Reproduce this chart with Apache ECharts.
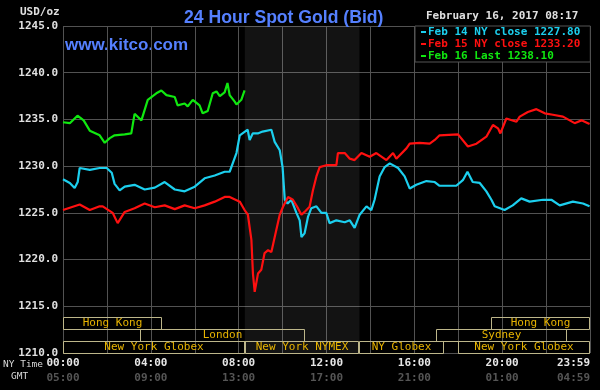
<!DOCTYPE html>
<html>
<head>
<meta charset="utf-8">
<script src="https://cdn.jsdelivr.net/npm/echarts@6/dist/echarts.min.js"></script>
<style>
html,body{margin:0;padding:0;background:#000;}
#chart{width:600px;height:390px;}
</style>
</head>
<body>
<div id="chart"></div>
<script>
// ---- data ----
const seriesNames = ['Feb 14 NY close 1227.80', 'Feb 15 NY close 1233.20', 'Feb 16 Last 1238.10'];

const feb14Hours = [0,0.31,0.53,0.67,0.76,1.22,1.67,1.99,2.22,2.35,2.58,2.81,3.26,3.72,4.18,4.63,5.09,5.54,6.00,6.45,6.91,7.36,7.59,7.90,8.05,8.41,8.50,8.64,8.87,9.09,9.49,9.64,9.87,10.00,10.10,10.23,10.40,10.63,10.78,10.86,11.00,11.16,11.31,11.54,11.77,11.99,12.14,12.45,12.83,13.06,13.28,13.51,13.82,14.04,14.19,14.42,14.65,14.88,15.26,15.56,15.79,16.09,16.55,16.93,17.15,17.91,18.21,18.42,18.66,18.98,19.28,19.51,19.66,20.11,20.48,20.87,21.25,21.86,22.24,22.62,23.22,23.68,23.98];
const feb14Values = [1228.6,1228.2,1227.65,1228.3,1229.8,1229.6,1229.8,1229.8,1229.3,1228.1,1227.4,1227.8,1228.0,1227.5,1227.7,1228.3,1227.5,1227.3,1227.8,1228.7,1229.0,1229.4,1229.4,1231.4,1233.3,1233.9,1232.8,1233.5,1233.5,1233.7,1233.9,1232.6,1231.7,1229.9,1226.4,1226.0,1226.4,1225.0,1224.2,1222.4,1222.8,1224.6,1225.5,1225.7,1225.0,1225.0,1223.9,1224.2,1224.0,1224.2,1223.4,1224.8,1225.7,1225.3,1226.4,1228.9,1229.9,1230.3,1229.8,1228.9,1227.6,1228.0,1228.4,1228.3,1227.9,1227.9,1228.5,1229.4,1228.3,1228.2,1227.3,1226.4,1225.7,1225.3,1225.8,1226.55,1226.2,1226.4,1226.4,1225.8,1226.2,1226.0,1225.7];

const feb15Hours = [0,0.76,1.22,1.67,1.81,2.26,2.49,2.81,3.26,3.72,4.18,4.63,5.09,5.54,6.00,6.45,6.91,7.36,7.59,8.05,8.27,8.42,8.58,8.65,8.73,8.88,9.03,9.18,9.34,9.49,9.64,9.87,10.02,10.25,10.47,10.70,10.86,11.00,11.23,11.38,11.54,11.69,11.99,12.45,12.52,12.83,13.06,13.28,13.59,13.97,14.27,14.73,15.03,15.18,15.64,15.79,16.24,16.70,16.93,17.15,17.99,18.44,18.83,19.28,19.58,19.81,19.92,20.19,20.65,20.80,21.17,21.56,21.94,22.31,22.77,23.30,23.61,23.98];
const feb15Values = [1225.3,1225.9,1225.3,1225.7,1225.7,1225.0,1223.9,1225.1,1225.5,1226.0,1225.6,1225.8,1225.4,1225.8,1225.5,1225.8,1226.2,1226.7,1226.7,1226.2,1225.3,1224.8,1222.1,1218.5,1216.55,1218.5,1218.9,1220.7,1221.0,1220.8,1222.4,1224.8,1225.65,1226.7,1226.4,1225.5,1224.8,1225.1,1225.65,1227.4,1228.9,1229.9,1230.1,1230.1,1231.4,1231.4,1230.8,1230.65,1231.4,1231.0,1231.4,1230.65,1231.4,1230.8,1231.9,1232.4,1232.5,1232.4,1232.8,1233.3,1233.4,1232.1,1232.4,1233.15,1234.4,1234.05,1233.5,1235.1,1234.75,1235.3,1235.8,1236.1,1235.65,1235.5,1235.3,1234.6,1234.9,1234.5];

const feb16Hours = [0,0.31,0.66,0.94,1.22,1.67,1.90,2.13,2.35,2.81,3.11,3.26,3.57,3.86,4.25,4.48,4.71,5.09,5.22,5.54,5.68,5.91,6.22,6.36,6.59,6.82,6.99,7.14,7.36,7.49,7.59,7.82,7.90,8.12,8.27];
const feb16Values = [1234.7,1234.6,1235.4,1234.9,1233.8,1233.3,1232.5,1233.0,1233.3,1233.4,1233.5,1235.6,1234.9,1237.1,1237.8,1238.1,1237.6,1237.4,1236.5,1236.7,1236.4,1237.1,1236.5,1235.65,1235.9,1237.8,1238.0,1237.5,1237.9,1238.9,1237.6,1236.9,1236.6,1237.1,1238.1];

// open session (NYMEX remaining) shading, hours
const shadeStart = 8.28, shadeEnd = 13.5;

// trading sessions: [startHour, endHour, row (0 = bottom), label]
const sessionStarts = [0, 3.5, 0, 8.28, 13.5, 18.0, 17.0, 19.5];
const sessionEnds   = [4.5, 11.0, 8.28, 13.5, 17.35, 24, 22.95, 24];
const sessionRows   = [2, 1, 0, 0, 0, 0, 1, 2];
const sessionLabels = ['Hong Kong', 'London', 'New York Globex', 'New York NYMEX', 'NY Globex', 'New York Globex', 'Sydney', 'Hong Kong'];

const nyTicks  = {0:'00:00', 4:'04:00', 8:'08:00', 12:'12:00', 16:'16:00', 20:'20:00', 24:'23:59'};
const gmtTicks = {0:'05:00', 4:'09:00', 8:'13:00', 12:'17:00', 16:'21:00', 20:'01:00', 24:'04:59'};
const yMin = 1210, yMax = 1245, yStep = 5;

// ---- chart ----
const zip = (h, v) => h.map((x, i) => [x, v[i]]);
const colors = ['#1ccfee', '#ff1010', '#10e810'];
const mono = 'DejaVu Sans Mono';

const sessionData = sessionStarts.map((s, i) => [s, sessionEnds[i], sessionRows[i], sessionLabels[i]]);

const chart = echarts.init(document.getElementById('chart'), null, {renderer: 'canvas'});
chart.setOption({
  backgroundColor: '#000',
  animation: false,
  title: {
    text: '24 Hour Spot Gold (Bid)',
    left: 179, top: 4,
    textStyle: {color: '#5580ff', fontSize: 17.6, fontWeight: 'bold', fontFamily: 'Liberation Sans'}
  },
  grid: {left: 63, right: 10, top: 26, bottom: 37, containLabel: false},
  legend: {
    orient: 'vertical', left: 415, top: 26,
    backgroundColor: '#000', borderColor: '#555', borderWidth: 1,
    padding: [0, 10, 0, 6], itemGap: 0,
    icon: 'rect', itemWidth: 5, itemHeight: 2,
    textStyle: {fontFamily: mono, fontSize: 11, fontWeight: 'bold', lineHeight: 12, height: 12, padding: [0,0,0,-3]},
    data: seriesNames.map((n, i) => ({name: n, textStyle: {color: colors[i]}}))
  },
  xAxis: {
    type: 'value', min: 0, max: 24, interval: 2,
    axisLine: {show: false}, axisTick: {show: false},
    splitLine: {show: true, lineStyle: {color: '#525252', width: 1}},
    axisLabel: {
      margin: 3, alignMaxLabel: 'right',
      formatter: v => nyTicks[v] !== undefined ? '{a|' + nyTicks[v] + '}\n{b|' + gmtTicks[v] + '}' : '',
      rich: {
        a: {color: '#e6e6e6', fontFamily: mono, fontSize: 11, fontWeight: 'bold', lineHeight: 15},
        b: {color: '#555', fontFamily: mono, fontSize: 11, fontWeight: 'bold', lineHeight: 15}
      }
    }
  },
  yAxis: {
    type: 'value', min: yMin, max: yMax, interval: yStep,
    axisLine: {show: false}, axisTick: {show: false},
    splitLine: {show: true, lineStyle: {color: '#525252', width: 1}},
    axisLabel: {color: '#e0e0e0', fontFamily: mono, fontSize: 11, fontWeight: 'bold', margin: 5,
      formatter: v => v.toFixed(1)}
  },
  graphic: [
    {type: 'text', left: 20, top: 7, style: {text: 'USD/oz', fill: '#e0e0e0', font: 'bold 11px "DejaVu Sans Mono"'}},
    {type: 'text', left: 65, top: 37, style: {text: 'www.kitco.com', fill: '#5580ff', font: 'bold 17px "Liberation Sans"'}},
    {type: 'text', left: 426, top: 11, style: {text: 'February 16, 2017 08:17', fill: '#e0e0e0', font: 'bold 11px "DejaVu Sans Mono"'}},
    {type: 'text', left: 3, top: 360, style: {text: 'NY Time', fill: '#d8d8d8', font: '9.5px "DejaVu Sans Mono"'}},
    {type: 'text', left: 11, top: 372, style: {text: 'GMT', fill: '#d8d8d8', font: '9.5px "DejaVu Sans Mono"'}}
  ],
  series: [
    {
      name: seriesNames[0], type: 'line', data: zip(feb14Hours, feb14Values),
      showSymbol: false, lineStyle: {color: colors[0], width: 2.2}, itemStyle: {color: colors[0]}, z: 3,
      markArea: {silent: true, itemStyle: {color: 'rgba(255,255,255,0.075)'},
        data: [[{xAxis: shadeStart, yAxis: yMin}, {xAxis: shadeEnd, yAxis: yMax}]]}
    },
    {
      name: seriesNames[1], type: 'line', data: zip(feb15Hours, feb15Values),
      showSymbol: false, lineStyle: {color: colors[1], width: 2.2}, itemStyle: {color: colors[1]}, z: 4
    },
    {
      name: seriesNames[2], type: 'line', data: zip(feb16Hours, feb16Values),
      showSymbol: false, lineStyle: {color: colors[2], width: 2.2}, itemStyle: {color: colors[2]}, z: 5
    },
    {
      type: 'custom', silent: true, z: 2,
      data: sessionData,
      encode: {x: [0, 1]},
      renderItem: function (params, api) {
        const p1 = api.coord([api.value(0), yMin]);
        const p2 = api.coord([api.value(1), yMin]);
        const row = api.value(2);
        const h = 12;
        const yb = p1[1] - row * h;
        const x0 = Math.round(p1[0]) + 0.5, x1 = Math.round(p2[0]) - 0.5;
        return {
          type: 'group',
          children: [
            {type: 'rect', shape: {x: x0, y: Math.round(yb - h) + 0.5, width: x1 - x0, height: h},
              style: {fill: 'none', stroke: '#bdb68a', lineWidth: 1}},
            {type: 'text', style: {text: sessionData[params.dataIndex][3], x: (x0 + x1) / 2, y: yb - h / 2 + 0.5,
              align: 'center', verticalAlign: 'middle', fill: '#e8b400', font: '11px "DejaVu Sans Mono"'}}
          ]
        };
      }
    }
  ]
});
</script>
</body>
</html>
